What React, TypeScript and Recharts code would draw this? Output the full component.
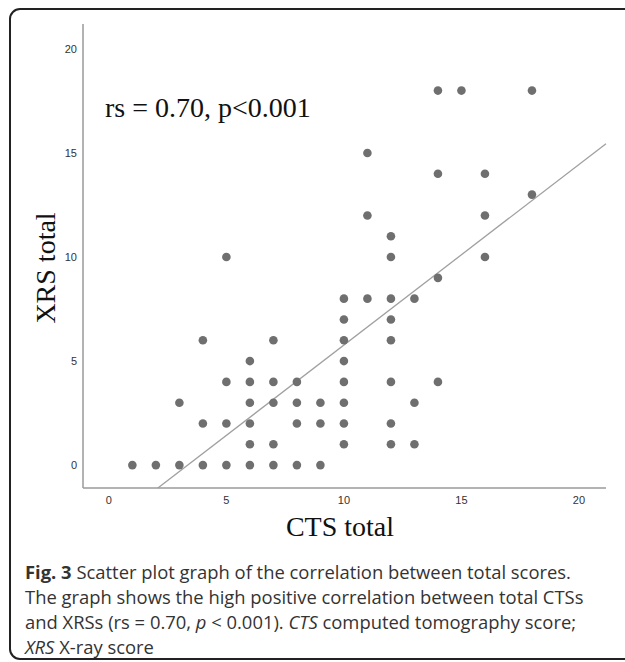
import {
  ReferenceLine,
  Scatter,
  ScatterChart,
  XAxis,
  YAxis,
} from "recharts";

// CTS total (x) and XRS total (y), one pair per patient
const ctsTotal = [
  1, 2, 3, 3, 4, 4, 4, 5, 5, 5, 5,
  6, 6, 6, 6, 6, 6, 7, 7, 7, 7, 7, 8, 8, 8, 8, 9, 9, 9,
  10, 10, 10, 10, 10, 10, 10, 10, 11, 11, 11,
  12, 12, 12, 12, 12, 12, 12, 12, 13, 13, 13,
  14, 14, 14, 14, 15, 16, 16, 16, 18, 18,
];
const xrsTotal = [
  0, 0, 0, 3, 0, 2, 6, 0, 2, 4, 10,
  0, 1, 2, 3, 4, 5, 0, 1, 3, 4, 6, 0, 2, 3, 4, 0, 2, 3,
  1, 2, 3, 4, 5, 6, 7, 8, 8, 12, 15,
  1, 2, 4, 6, 7, 8, 10, 11, 1, 3, 8,
  4, 9, 14, 18, 18, 10, 12, 14, 13, 18,
];
const axisTicks = [0, 5, 10, 15, 20];
const xDomain = [-1.1, 21.15];
const yDomain = [-1.1, 21.2];

// fitted line, y = slope * x + intercept
const fitSlope = 0.868;
const fitIntercept = -2.91;

const points = ctsTotal.map((x, i) => ({ x, y: xrsTotal[i] }));

const fitStartX = (yDomain[0] - fitIntercept) / fitSlope;
const fitEnd = { x: xDomain[1], y: fitSlope * xDomain[1] + fitIntercept };

const serif = "'Liberation Serif', 'Times New Roman', serif";
const sans = "'Open Sans', 'Noto Sans', sans-serif";
const tickStyle = { fontSize: 11, fill: "#333", fontFamily: "'Liberation Sans', Arial, sans-serif" };

export default function App() {
  return (
    <div style={{ position: "absolute", left: 0, top: 0, width: 625, height: 662, background: "#fff" }}>
      <ScatterChart
        width={625}
        height={662}
        margin={{ top: 24, right: 19, bottom: 144, left: 0 }}
      >
        <XAxis
          type="number"
          dataKey="x"
          domain={xDomain}
          ticks={axisTicks}
          allowDataOverflow
          height={30}
          tickLine={false}
          tickSize={0}
          tickMargin={8}
          axisLine={{ stroke: "#9a9a9a", strokeWidth: 1.5 }}
          tick={tickStyle}
        />
        <YAxis
          type="number"
          dataKey="y"
          domain={yDomain}
          ticks={axisTicks}
          allowDataOverflow
          width={83}
          tickLine={false}
          tickSize={0}
          tickMargin={6}
          axisLine={{ stroke: "#9a9a9a", strokeWidth: 1.5 }}
          tick={tickStyle}
        />
        <ReferenceLine
          segment={[{ x: fitStartX, y: yDomain[0] }, fitEnd]}
          stroke="#a0a0a0"
          strokeWidth={1.3}
        />
        <Scatter
          data={points}
          isAnimationActive={false}
          shape={(p: any) => <circle cx={p.cx} cy={p.cy} r={4.3} fill="#6f6f6f" />}
        />
      </ScatterChart>
      <svg
        width={625}
        height={662}
        style={{ position: "absolute", left: 0, top: 0, pointerEvents: "none" }}
      >
        <rect x={10} y={9} width={640} height={650} rx={10} fill="none" stroke="#222" strokeWidth={2} />
        <text x={105} y={117} fontFamily={serif} fontSize={28} fill="#111">
          rs = 0.70, p&lt;0.001
        </text>
        <text
          transform="translate(55 268) rotate(-90)"
          textAnchor="middle"
          fontFamily={serif}
          fontSize={28}
          fill="#111"
        >
          XRS total
        </text>
        <text x={340} y={536} textAnchor="middle" fontFamily={serif} fontSize={28} fill="#111">
          CTS total
        </text>
        <g fontFamily={sans} fontSize={18.4} fill="#333">
          <text x={25} y={579}>
            <tspan fontWeight="bold">Fig. 3</tspan> Scatter plot graph of the correlation between total scores.
          </text>
          <text x={25} y={604}>The graph shows the high positive correlation between total CTSs</text>
          <text x={25} y={629}>
            and XRSs (rs = 0.70, <tspan fontStyle="italic">p</tspan> &lt; 0.001).{" "}
            <tspan fontStyle="italic">CTS</tspan> computed tomography score;
          </text>
          <text x={25} y={654}>
            <tspan fontStyle="italic">XRS</tspan> X-ray score
          </text>
        </g>
      </svg>
    </div>
  );
}
